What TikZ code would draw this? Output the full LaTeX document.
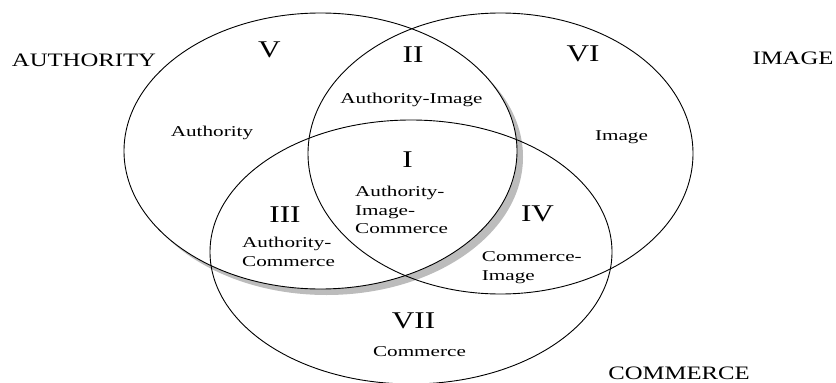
\documentclass[tikz,border=0pt]{standalone}
\usepackage{fontspec}
\setmainfont{Liberation Serif}
\newfontfamily\capsfont[FakeStretch=1.3]{Liberation Serif}
\newfontfamily\lblfont[FakeStretch=1.41]{Liberation Serif}
\definecolor{shadowgray}{RGB}{188,188,188}
\begin{document}
\begin{tikzpicture}[x=1pt,y=-1pt,
  setline/.style={line width=0.9pt,black},
  bigcap/.style={inner sep=0pt,anchor=base,font=\capsfont\fontsize{19}{23}\selectfont},
  numeral/.style={inner sep=0pt,anchor=base,font=\capsfont\fontsize{24}{28}\selectfont},
  lbl/.style={inner sep=0pt,anchor=base,font=\lblfont\fontsize{15}{18}\selectfont},
  lblw/.style={inner sep=0pt,anchor=base west,font=\lblfont\fontsize{15}{18}\selectfont}]
\useasboundingbox (0,0) rectangle (836,383);
\coordinate (A) at (320.5,151);
\coordinate (Ash) at (326.5,157);
\coordinate (I) at (500.5,153.5);
\coordinate (C) at (411,252);
% shadow of the Authority set
\fill[shadowgray] (Ash) ellipse [x radius=196.5pt, y radius=138pt];
\fill[white] (A) ellipse [x radius=196.5pt, y radius=138pt];
% sets
\draw[setline] (A) ellipse [x radius=196.5pt, y radius=138pt];
\draw[setline] (I) ellipse [x radius=192.5pt, y radius=140.5pt];
\draw[setline] (C) ellipse [x radius=201pt, y radius=132pt];
% set names
\node[bigcap] (tA) at (84,66) {AUTHORITY};
\node[bigcap] (tI) at (793,64.5) {IMAGE};
\node[bigcap] (tC) at (679,379.5) {COMMERCE};
% numerals
\node[numeral] (n1) at (407.5,167.7) {I};
\node[numeral] (n2) at (413,62) {II};
\node[numeral] (n3) at (285,222) {III};
\node[numeral] (n4) at (537.5,221.5) {IV};
\node[numeral] (n5) at (269.5,57.3) {V};
\node[numeral] (n6) at (583,61) {VI};
\node[numeral] (n7) at (413.5,328) {VII};
% region labels
\node[lbl] (l5) at (212,136.7) {Authority};
\node[lbl] (l2) at (411.5,103.3) {Authority-Image};
\node[lbl] (l6) at (621.5,140) {Image};
\node[lbl] (l7) at (419.5,356.7) {Commerce};
\node[lblw] (l1a) at (355,196.7) {Authority-};
\node[lblw] (l1b) at (355,215.2) {Image-};
\node[lblw] (l1c) at (355,233.7) {Commerce};
\node[lblw] (l3a) at (242,247.3) {Authority-};
\node[lblw] (l3b) at (242,266) {Commerce};
\node[lblw] (l4a) at (481.7,261) {Commerce-};
\node[lblw] (l4b) at (481.7,280) {Image};
\end{tikzpicture}
\end{document}
